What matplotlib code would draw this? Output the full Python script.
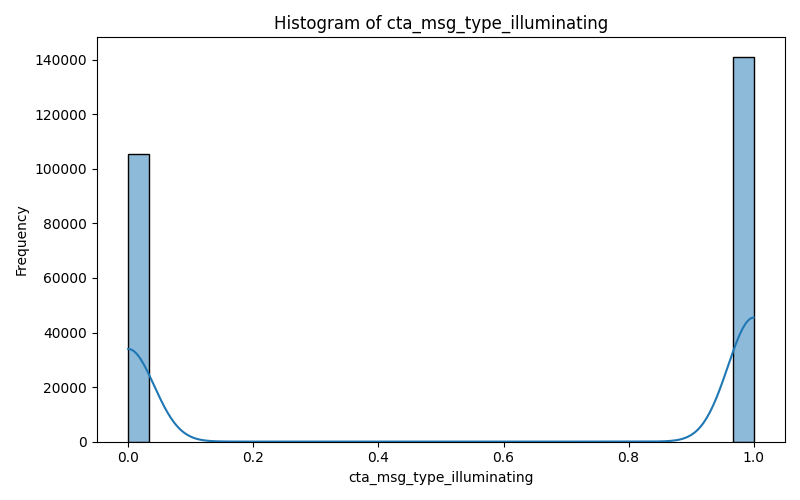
import numpy as np
import matplotlib.pyplot as plt

# observed values and their counts
values = [0.0, 1.0]
counts = [105500, 141200]
n_bins = 30

vals = np.array(values)
wts = np.array(counts, dtype=float)
n = wts.sum()

edges = np.linspace(0, 1, n_bins + 1)
hist, _ = np.histogram(vals, bins=edges, weights=wts)
bw = edges[1] - edges[0]

# gaussian kde with Scott's bandwidth, scaled to counts like seaborn
mean = (vals * wts).sum() / n
std = np.sqrt(((vals - mean) ** 2 * wts).sum() / (n - 1))
h = std * n ** (-1 / 5)
xs = np.linspace(0, 1, 400)
dens = sum(w * np.exp(-0.5 * ((xs - v) / h) ** 2) for v, w in zip(vals, wts))
dens = dens / (n * h * np.sqrt(2 * np.pi))
kde = dens * n * bw

fig, ax = plt.subplots(figsize=(8, 5), dpi=100)
mask = hist > 0
ax.bar(edges[:-1][mask], hist[mask], width=bw, align="edge",
       color="#1f77b4", alpha=0.5, edgecolor="none")
ax.bar(edges[:-1][mask], hist[mask], width=bw, align="edge",
       fill=False, edgecolor="black", linewidth=1)
ax.plot(xs, kde, color="#1f77b4", linewidth=1.5)

ax.set_title("Histogram of cta_msg_type_illuminating")
ax.set_xlabel("cta_msg_type_illuminating")
ax.set_ylabel("Frequency")
fig.tight_layout()
fig.savefig("out.png")
